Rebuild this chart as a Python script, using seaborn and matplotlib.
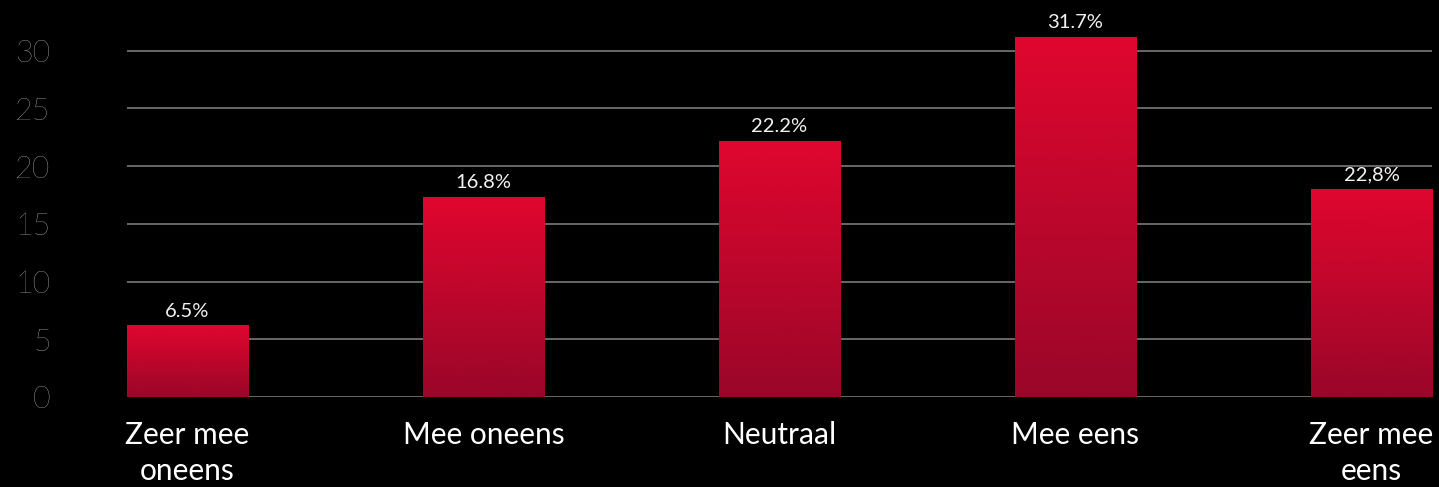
import matplotlib
matplotlib.use('Agg')
import matplotlib.pyplot as plt
from matplotlib.colors import LinearSegmentedColormap
import numpy as np
import pandas as pd
import seaborn as sns

categories = ['Zeer mee\noneens', 'Mee oneens', 'Neutraal', 'Mee eens', 'Zeer mee\neens']
heights = [6.2, 17.3, 22.2, 31.2, 18.0]
labels = ['6.5%', '16.8%', '22.2%', '31.7%', '22,8%']
yticks = [0, 5, 10, 15, 20, 25, 30]

df = pd.DataFrame({'answer': categories, 'value': heights})

sns.set_style('dark')
plt.rcParams['font.family'] = ['Lato', 'DejaVu Sans']

fig = plt.figure(figsize=(14.39, 4.87), dpi=100, facecolor='black')
ax = fig.add_axes([127 / 1439, 90 / 487, 1305 / 1439, 381 / 487])
ax.set_facecolor('black')

bar_width = 0.409
sns.barplot(data=df, x='answer', y='value', width=bar_width, color='#c00a2c',
            saturation=1, linewidth=0, ax=ax, zorder=3)

ax.set_xlim(-bar_width / 2, len(categories) - 1 + bar_width / 2)
ax.set_ylim(0, 33)

# gradient fill inside each bar
cmap = LinearSegmentedColormap.from_list('redgrad', ['#9a0629', '#e0062f'])
grad = np.linspace(0, 1, 256).reshape(-1, 1)
for patch, lab in zip(ax.patches, labels):
    x0, y0 = patch.get_x(), patch.get_y()
    w, h = patch.get_width(), patch.get_height()
    img = ax.imshow(grad, extent=[x0, x0 + w, y0, y0 + h], origin='lower',
                    cmap=cmap, aspect='auto', zorder=4)
    img.set_clip_path(patch)
    patch.set_facecolor('none')
    patch.set_edgecolor('none')
    ax.text(x0 + w / 2, y0 + h + 0.5, lab, ha='center', va='bottom',
            color='#f2f2f2', fontsize=14.5)

ax.set_yticks(yticks)
ax.yaxis.grid(True, color='#7a7a7a', linewidth=1.2, zorder=0)
ax.xaxis.grid(False)
for s in ax.spines.values():
    s.set_visible(False)

ax.tick_params(axis='y', length=0, pad=55, labelsize=22, labelcolor='#d9d9d9')
ax.tick_params(axis='x', length=0, pad=17, labelsize=21.5, labelcolor='white')
for t in ax.get_yticklabels():
    t.set_fontweight('light')
for t in ax.get_xticklabels():
    t.set_linespacing(1.35)

ax.set_xlabel('')
ax.set_ylabel('')

fig.savefig('out.png', dpi=100, facecolor='black')
